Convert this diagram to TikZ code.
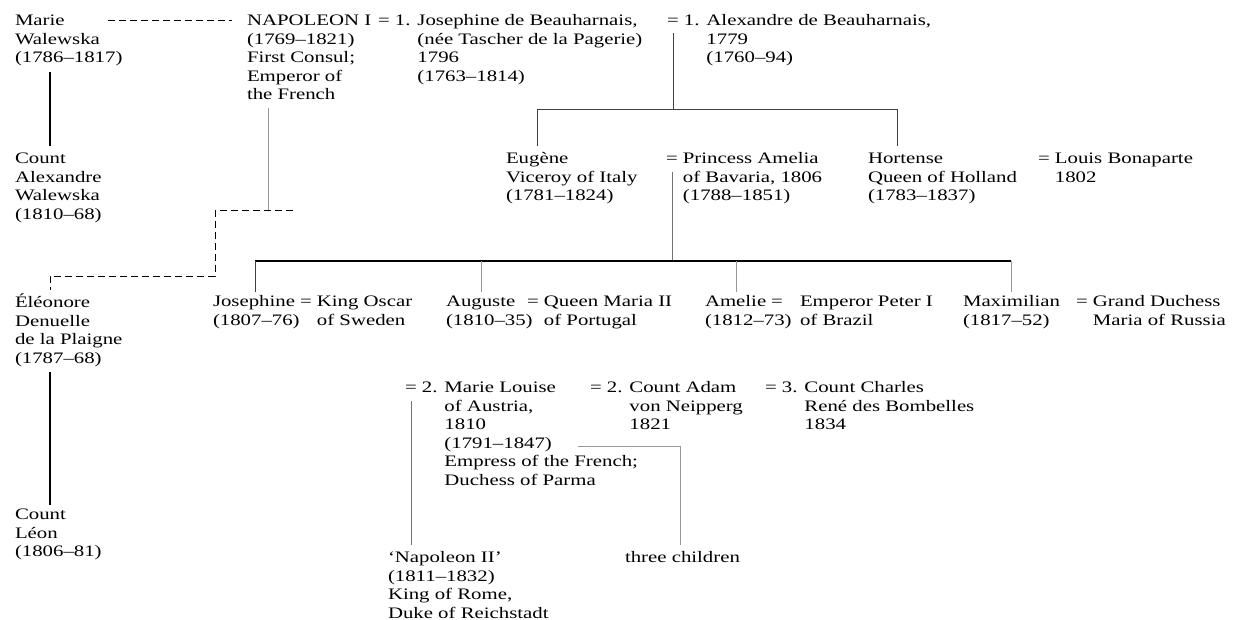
\documentclass[tikz,border=0pt]{standalone}
\usepackage{fontspec}
\setmainfont[FakeStretch=1.3]{Liberation Serif}
\newcommand{\fsz}{\fontsize{16}{18.5}\selectfont}
\begin{document}
\begin{tikzpicture}[x=1pt,y=-1pt,
  txt/.style={anchor=north west, inner sep=0pt, outer sep=0pt, align=left, font=\fsz},
  heavy/.style={line width=1.3pt, black},
  mid/.style={line width=1pt, black!75},
  thinl/.style={line width=0.7pt, black!40},
  dline/.style={line width=1pt, black, dash pattern=on 7pt off 4pt}]
\useasboundingbox (0,0) rectangle (1236,620);
% ---- generation 1
\node[txt] (marie) at (15,13) {\strut Marie\\Walewska\\(1786–1817)};
\node[txt] (napo) at (247,13) {\strut NAPOLEON I\\(1769–1821)\\First Consul;\\Emperor of\\the French};
\node[txt] (jos) at (378,13) {\strut = 1. Josephine de Beauharnais,\\\hphantom{= 1. }(née Tascher de la Pagerie)\\\hphantom{= 1. }1796\\\hphantom{= 1. }(1763–1814)};
\node[txt] (alex) at (667,13) {\strut = 1. Alexandre de Beauharnais,\\\hphantom{= 1. }1779\\\hphantom{= 1. }(1760–94)};
% ---- generation 2
\node[txt] (cwal) at (15,151) {\strut Count\\Alexandre\\Walewska\\(1810–68)};
\node[txt] (eug) at (506,151) {\strut Eugène\\Viceroy of Italy\\(1781–1824)};
\node[txt] (amel) at (666,151) {\strut = Princess Amelia\\\hphantom{= }of Bavaria, 1806\\\hphantom{= }(1788–1851)};
\node[txt] (hort) at (868,151) {\strut Hortense\\Queen of Holland\\(1783–1837)};
\node[txt] (louis) at (1038,151) {\strut = Louis Bonaparte\\\hphantom{= }1802};
% ---- generation 3
\node[txt] (ele) at (15,294) {\strut Éléonore\\Denuelle\\de la Plaigne\\(1787–68)};
\node[txt] (gjos) at (213,294) {\strut Josephine\\(1807–76)};
\node[txt] (oscar) at (300,294) {\strut = King Oscar\\\hphantom{= }of Sweden};
\node[txt] (aug) at (446,294) {\strut Auguste\\(1810–35)};
\node[txt] (maria) at (527,294) {\strut = Queen Maria II\\\hphantom{= }of Portugal};
\node[txt] (ame) at (705,294) {\strut Amelie\\(1812–73)};
\node[txt] (ameq) at (771,294) {\strut =};
\node[txt] (peter) at (800,294) {\strut Emperor Peter I\\of Brazil};
\node[txt] (maxi) at (963,294) {\strut Maximilian\\(1817–52)};
\node[txt] (gd) at (1076,294) {\strut = Grand Duchess\\\hphantom{= }Maria of Russia};
% ---- second marriages
\node[txt] (ml) at (405,380) {\strut = 2. Marie Louise\\\hphantom{= 2. }of Austria,\\\hphantom{= 2. }1810\\\hphantom{= 2. }(1791–1847)\\\hphantom{= 2. }Empress of the French;\\\hphantom{= 2. }Duchess of Parma};
\node[txt] (adam) at (590,380) {\strut = 2. Count Adam\\\hphantom{= 2. }von Neipperg\\\hphantom{= 2. }1821};
\node[txt] (charles) at (765,380) {\strut = 3. Count Charles\\\hphantom{= 3. }René des Bombelles\\\hphantom{= 3. }1834};
\node[txt] (leon) at (15,507) {\strut Count\\Léon\\(1806–81)};
\node[txt] (nap2) at (388,550) {\strut ‘Napoleon II’\\(1811–1832)\\King of Rome,\\Duke of Reichstadt};
\node[txt] (three) at (625,550) {\strut three children};
% ---- junction coordinates
\coordinate (mw1) at (50,72);   \coordinate (mw2) at (50,146);
\coordinate (d1) at (108,21);   \coordinate (d2) at (232,21);
\coordinate (nv1) at (268,108); \coordinate (nv2) at (268,211);
\coordinate (e1) at (293,211);  \coordinate (e2) at (215,211);
\coordinate (e3) at (215,276);  \coordinate (e4) at (50,276);
\coordinate (e5) at (50,290);
\coordinate (av1) at (673,33);  \coordinate (av2) at (673,110);
\coordinate (h1) at (537,110);  \coordinate (h2) at (897,110);
\coordinate (h1b) at (537,146); \coordinate (h2b) at (897,146);
\coordinate (pv1) at (672,172); \coordinate (pv2) at (672,261);
\coordinate (b1) at (255,261);  \coordinate (b2) at (1011,261);
\coordinate (c1) at (255,292);  \coordinate (c2a) at (481,261); \coordinate (c2) at (481,292);
\coordinate (c3a) at (736,261); \coordinate (c3) at (736,292);
\coordinate (c4) at (1011,292);
\coordinate (lv1) at (50,372);  \coordinate (lv2) at (50,505);
\coordinate (mv1) at (411,401); \coordinate (mv2) at (411,545);
\coordinate (t1) at (578,446);  \coordinate (t2) at (680,446); \coordinate (t3) at (680,545);
% ---- connectors
\draw[heavy] (mw1) -- (mw2);
\draw[dline] (d1) -- (d2);
\draw[thinl] (nv1) -- (nv2);
\draw[dline] (e1) -- (e2) -- (e3) -- (e4) -- (e5);
\draw[mid] (av1) -- (av2);
\draw[mid] (h1b) -- (h1) -- (h2) -- (h2b);
\draw[thinl, black!55] (pv1) -- (pv2);
\draw[heavy] (b1) -- (b2);
\draw[mid] (b1) -- (c1);
\draw[thinl] (c2a) -- (c2);
\draw[thinl] (c3a) -- (c3);
\draw[thinl] (b2) -- (c4);
\draw[heavy] (lv1) -- (lv2);
\draw[thinl, black!55] (mv1) -- (mv2);
\draw[thinl] (t1) -- (t2) -- (t3);
\end{tikzpicture}
\end{document}
